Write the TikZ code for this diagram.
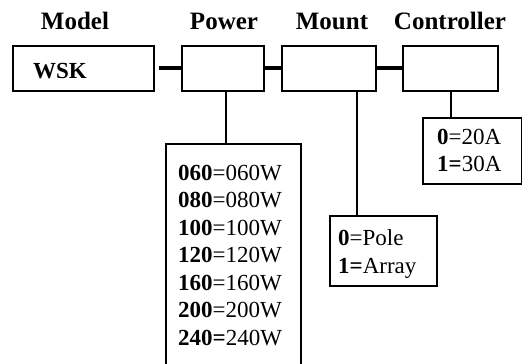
\documentclass[tikz,border=0pt]{standalone}
\usepackage{fontspec}
\setmainfont{Liberation Serif}
\begin{document}
\begin{tikzpicture}[x=1pt,y=-1pt,
  box/.style={draw,line width=1.8pt,inner sep=0pt,anchor=north west},
  head/.style={font=\fontsize{25}{29}\selectfont\bfseries,anchor=base,inner sep=0pt},
  txt/.style={font=\fontsize{23}{27.5}\selectfont,anchor=base west,inner sep=0pt},
  thick link/.style={line width=4pt},
  thin link/.style={line width=1.5pt}]
\useasboundingbox (0,0) rectangle (522,364);
\clip (0,0) rectangle (522,364);
% headings
\node[head] (hmodel) at (75,29) {Model};
\node[head] (hpower) at (224,29) {Power};
\node[head] (hmount) at (332,29) {Mount};
\node[head] (hctrl) at (450,29) {Controller};
% top boxes
\node[box,minimum width=141pt,minimum height=45pt] (wsk) at (12,45) {};
\node[box,minimum width=82pt,minimum height=45pt] (pow) at (181,45) {};
\node[box,minimum width=94pt,minimum height=45pt] (mnt) at (281,45) {};
\node[box,minimum width=95pt,minimum height=45pt] (ctl) at (402,45) {};
\node[txt,font=\fontsize{23}{27}\selectfont\bfseries] (wsktxt) at (33,78) {WSK};
% thick connectors
\draw[thick link] ([xshift=4pt]wsk.east) -- (pow.west);
\draw[thick link] (pow.east) -- (mnt.west);
\draw[thick link] (mnt.east) -- (ctl.west);
% option boxes
\node[box,minimum width=135pt,minimum height=230pt] (plist) at (165,143) {};
\node[box,minimum width=107pt,minimum height=70pt] (mlist) at (329,215) {};
\node[box,minimum width=99pt,minimum height=66pt] (clist) at (422,117) {};
% option texts
\node[txt] (p1) at (178,180) {\textbf{060}=060W};
\node[txt] (p2) at (178,207.5) {\textbf{080}=080W};
\node[txt] (p3) at (178,235) {\textbf{100}=100W};
\node[txt] (p4) at (178,262.5) {\textbf{120}=120W};
\node[txt] (p5) at (178,290) {\textbf{160}=160W};
\node[txt] (p6) at (178,317.5) {\textbf{200}=200W};
\node[txt] (p7) at (178,345) {\textbf{240=}240W};
\node[txt] (m1) at (338,245) {\textbf{0}=Pole};
\node[txt] (m2) at (338,273) {\textbf{1=}Array};
\node[txt] (c1) at (437,144) {\textbf{0}=20A};
\node[txt] (c2) at (437,171) {\textbf{1=}30A};
% vertical connectors
\coordinate (vp) at (226,90);
\coordinate (vm) at (357,90);
\coordinate (vc) at (451,90);
\draw[thin link] (vp) -- (vp |- plist.north);
\draw[thin link] (vm) -- (vm |- mlist.north);
\draw[thin link] (vc) -- (vc |- clist.north);
\end{tikzpicture}
\end{document}
